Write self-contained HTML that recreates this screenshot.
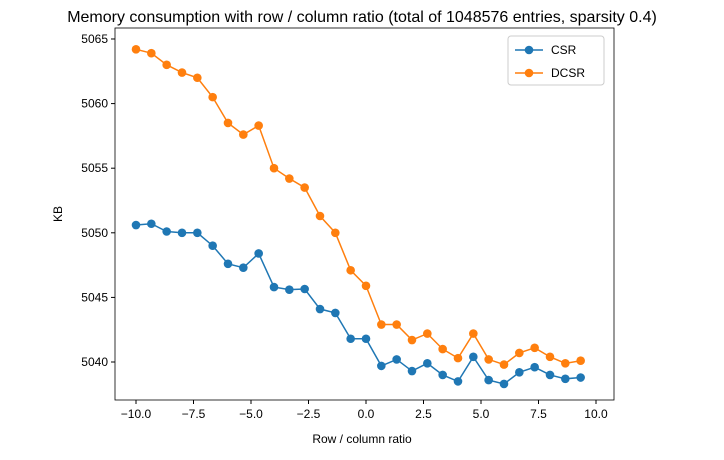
<!DOCTYPE html>
<html><head><meta charset="utf-8"><style>body{margin:0;background:#fff}svg{font-family:"Liberation Sans","DejaVu Sans",sans-serif}</style></head>
<body>
<svg id="chart" width="724" height="455" viewBox="0 0 724 455"></svg>
<script>
const csrValues=[5050.6,5050.7,5050.1,5050.0,5050.0,5049.0,5047.6,5047.3,5048.4,5045.8,5045.6,5045.65,5044.1,5043.8,5041.8,5041.8,5039.7,5040.2,5039.3,5039.9,5039.0,5038.5,5040.4,5038.6,5038.3,5039.2,5039.6,5039.0,5038.7,5038.8];
const dcsrValues=[5064.2,5063.9,5063.0,5062.4,5062.0,5060.5,5058.5,5057.6,5058.3,5055.0,5054.2,5053.5,5051.3,5050.0,5047.1,5045.9,5042.9,5042.9,5041.7,5042.2,5041.0,5040.3,5042.2,5040.2,5039.8,5040.7,5041.1,5040.4,5039.9,5040.1];
const xValues=csrValues.map((_,i)=>-10+i*2/3);
const xTicks=[-10,-7.5,-5,-2.5,0,2.5,5,7.5,10];
const xTickLabels=["−10.0","−7.5","−5.0","−2.5","0.0","2.5","5.0","7.5","10.0"];
const yTicks=[5040,5045,5050,5055,5060,5065];
const L=115,T=28,R=614,B=400,X0=-10.913,X1=10.783,Y0=5037.06,Y1=5065.85;
const sx=v=>L+(v-X0)/(X1-X0)*(R-L);
const sy=v=>B-(v-Y0)/(Y1-Y0)*(B-T);
const svg=document.getElementById('chart');
const NS='http://www.w3.org/2000/svg';
function mk(tag,attrs,parent){const e=document.createElementNS(NS,tag);for(const k in attrs)e.setAttribute(k,attrs[k]);(parent||svg).appendChild(e);return e;}
let t=mk('text',{x:362,y:22,'text-anchor':'middle','font-size':16,fill:'#000'});t.textContent='Memory consumption with row / column ratio (total of 1048576 entries, sparsity 0.4)';


xTicks.forEach((v,i)=>{const g=mk('g',{});


mk('line',{x1:sx(v),x2:sx(v),y1:B,y2:B+4,stroke:'#000'},g);
const tx=mk('text',{x:sx(v),y:B+18,'text-anchor':'middle','font-size':12},g);tx.textContent=xTickLabels[i];});
yTicks.forEach(v=>{const g=mk('g',{});


mk('line',{x1:L-4,x2:L,y1:sy(v),y2:sy(v),stroke:'#000'},g);
const tx=mk('text',{x:L-7,y:sy(v)+4,'text-anchor':'end','font-size':12},g);tx.textContent=v;});
t=mk('text',{x:362,y:443,'text-anchor':'middle','font-size':12});t.textContent='Row / column ratio';


t=mk('text',{x:62,y:214,'text-anchor':'middle','font-size':12,transform:'rotate(-90 62 214)'});t.textContent='KB';


function series(vals,color,name){const g=mk('g',{});


mk('polyline',{points:vals.map((v,i)=>sx(xValues[i])+','+sy(v)).join(' '),fill:'none',stroke:color,'stroke-width':1.5},g);
vals.forEach((v,i)=>{const c=mk('circle',{cx:sx(xValues[i]),cy:sy(v),r:4.3,fill:color},g);

});}
series(csrValues,'#1f77b4','csr-series');
series(dcsrValues,'#ff7f0e','dcsr-series');
const fr=mk('rect',{x:L,y:T,width:R-L,height:B-T,fill:'none',stroke:'#000','stroke-width':0.8});


const lg=mk('g',{});


mk('rect',{x:508,y:36,width:96,height:49,rx:3,fill:'#fff',stroke:'#ccc'},lg);
[['CSR','#1f77b4',50],['DCSR','#ff7f0e',73]].forEach(([n,c,y])=>{const e=mk('g',{},lg);


mk('line',{x1:515,x2:543,y1:y,y2:y,stroke:c,'stroke-width':1.5},e);
mk('circle',{cx:529,cy:y,r:4.3,fill:c},e);
const tx=mk('text',{x:551,y:y+4,'font-size':12},e);tx.textContent=n;});
</script>
</body></html>
